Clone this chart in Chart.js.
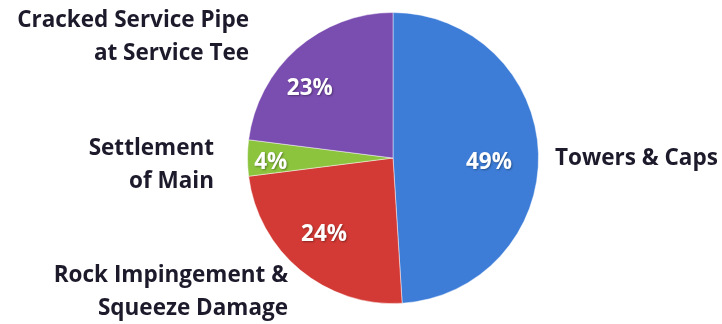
<!DOCTYPE html>
<html>
<head>
<meta charset="utf-8">
<script src="https://cdn.jsdelivr.net/npm/chart.js@4"></script>
<style>
  html, body { margin: 0; padding: 0; background: #fff; }
  #wrap { width: 722px; height: 324px; position: relative; }
</style>
</head>
<body>
<div id="wrap"><canvas id="pieChart" width="722" height="324"></canvas></div>
<script>
const categories = ['Towers & Caps', 'Rock Impingement & Squeeze Damage', 'Settlement of Main', 'Cracked Service Pipe at Service Tee'];
const categoryLines = [['Towers & Caps'], ['Rock Impingement &', 'Squeeze Damage'], ['Settlement', 'of Main'], ['Cracked Service Pipe', 'at Service Tee']];
const shares = [49, 24, 4, 23];
const sliceColors = ['#3d7dd8', '#d33a35', '#8cc43e', '#7a4db0'];

const FONT = 'bold 22.5px "Open Sans", "Noto Sans", sans-serif';

// where each outside label sits (anchor x, first line y, alignment)
const labelSpots = [
    { x: 555, y: 159, align: 'left' },
    { x: 288, y: 276, align: 'right' },
    { x: 214, y: 149, align: 'right' },
    { x: 249, y: 21, align: 'right' }
];
// how far out the percent sits inside each slice, plus a small nudge
const pctRadius = [0.66, 0.7, 0.84, 0.74];
const pctNudge = [[0, 8], [-4, -2], [0, 5], [-12, 11]];

const pieLabels = {
    id: 'pieLabels',
    afterDatasetsDraw(chart) {
        const ctx = chart.ctx;
        const meta = chart.getDatasetMeta(0);
        ctx.save();
        ctx.font = FONT;
        ctx.textBaseline = 'middle';

        // percentages inside slices
        ctx.fillStyle = '#ffffff';
        ctx.textAlign = 'center';
        ctx.shadowColor = 'rgba(0,0,0,0.35)';
        ctx.shadowBlur = 2;
        ctx.shadowOffsetX = 1;
        ctx.shadowOffsetY = 1;
        meta.data.forEach((arc, i) => {
            const p = arc.getProps(['x', 'y', 'startAngle', 'endAngle', 'outerRadius'], true);
            const mid = (p.startAngle + p.endAngle) / 2;
            const r = p.outerRadius * pctRadius[i];
            ctx.fillText(shares[i] + '%',
                p.x + Math.cos(mid) * r + pctNudge[i][0],
                p.y + Math.sin(mid) * r + pctNudge[i][1]);
        });

        // category names outside
        ctx.shadowColor = 'transparent';
        ctx.fillStyle = '#1c1a2b';
        categoryLines.forEach((lines, i) => {
            const spot = labelSpots[i];
            ctx.textAlign = spot.align;
            lines.forEach((line, j) => {
                ctx.fillText(line, spot.x, spot.y + j * 32.5);
            });
        });
        ctx.restore();
    }
};

new Chart(document.getElementById('pieChart'), {
    type: 'pie',
    data: {
        labels: categories,
        datasets: [{
            data: shares,
            backgroundColor: sliceColors,
            borderColor: 'rgba(255,255,255,0.45)',
            borderWidth: 1
        }]
    },
    options: {
        responsive: false,
        animation: false,
        layout: {
            padding: { left: 247, right: 183, top: 12, bottom: 20 }
        },
        plugins: {
            legend: { display: false },
            tooltip: { enabled: false }
        }
    },
    plugins: [pieLabels]
});
</script>
</body>
</html>
